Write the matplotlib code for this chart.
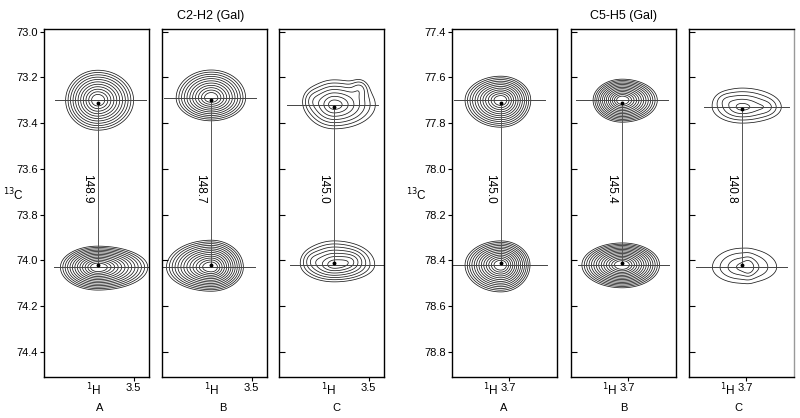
import numpy as np
import matplotlib
matplotlib.use('Agg')
import matplotlib.pyplot as plt

plt.rcParams['font.family'] = ['Liberation Sans', 'DejaVu Sans']

# two spectral windows (1H ppm runs right-to-left, 13C top-to-bottom)
groups = ['C2-H2 (Gal)', 'C5-H5 (Gal)']
h_lim = [(3.62, 3.48), (3.776, 3.636)]
c_lim = [(74.51, 72.99), (78.91, 77.39)]
c_ticks = [[73.0, 73.2, 73.4, 73.6, 73.8, 74.0, 74.2, 74.4],
           [77.4, 77.6, 77.8, 78.0, 78.2, 78.4, 78.6, 78.8]]
h_tick = [3.5, 3.7]
panel_names = ['A', 'B', 'C']

# one-bond couplings (Hz)
couplings = [[148.9, 148.7, 145.0], [145.0, 145.4, 140.8]]

# peak centres
peak_h = [[3.548, 3.554, 3.546], [3.7105, 3.7074, 3.7046]]
peak_c_up = [[73.30, 73.29, 73.32], [77.70, 77.70, 77.73]]
peak_c_lo = [[74.03, 74.03, 74.02], [78.42, 78.42, 78.43]]

# outer contour half-extents in ppm: (left, right, up, down) as seen on the page
extent_up = [[(0.043, 0.048, 0.131, 0.131), (0.047, 0.046, 0.122, 0.100), (0.039, 0.055, 0.109, 0.105)],
             [(0.048, 0.040, 0.105, 0.118), (0.039, 0.047, 0.092, 0.096), (0.040, 0.051, 0.083, 0.070)]]
extent_lo = [[(0.050, 0.067, 0.092, 0.100), (0.060, 0.043, 0.118, 0.105), (0.044, 0.054, 0.105, 0.074)],
             [(0.048, 0.039, 0.105, 0.118), (0.054, 0.050, 0.096, 0.100), (0.040, 0.046, 0.083, 0.070)]]
n_levels_up = [[11, 11, 7], [12, 13, 5]]
n_levels_lo = [[13, 13, 7], [13, 14, 4]]

# small side lobes in the noisy C spectra: group, panel, 1H, 13C, amp, width 1H, width 13C
side_lobes = [(0, 2, 3.512, 73.25, 0.22, 0.007, 0.025),
              (0, 2, 3.575, 73.30, 0.15, 0.008, 0.030),
              (0, 2, 3.522, 74.00, 0.22, 0.010, 0.025),
              (0, 2, 3.575, 74.00, 0.15, 0.008, 0.025),
              (1, 2, 3.672, 77.73, 0.22, 0.008, 0.020),
              (1, 2, 3.727, 77.70, 0.15, 0.008, 0.020),
              (1, 2, 3.696, 78.43, 0.35, 0.005, 0.030)]

# spans of the horizontal cursor lines (axes fraction)
hspan_up = [[(0.105, 0.98), (0.02, 0.90), (0.077, 0.95)], [(0.02, 0.89), (0.05, 0.93), (0.144, 0.96)]]
hspan_lo = [[(0.095, 1.0), (0.01, 0.89), (0.105, 1.0)], [(0.0, 0.91), (0.07, 0.94), (0.067, 0.94)]]

ax_left = [[44, 162, 279], [452, 571, 689]]
label_x = [[0.53, 0.58, 0.55], [0.49, 0.51, 0.47]]
W, H = 800, 418
LMIN = 0.1
RMAX = np.sqrt(-2 * np.log(LMIN))


def peak(X, Y, h0, c0, ext):
    l, r, u, d = ext
    sx = np.where(X > h0, l, r) / RMAX
    sy = np.where(Y < c0, u, d) / RMAX
    return np.exp(-0.5 * (((X - h0) / sx) ** 2 + ((Y - c0) / sy) ** 2))


def levels(n):
    # contour radii roughly evenly spaced, a bit tighter towards the rim
    r = RMAX * np.linspace(0.16, 1.0, n) ** 0.9
    return np.sort(np.exp(-0.5 * r ** 2))


fig = plt.figure(figsize=(8.0, 4.18), dpi=100)
for g in range(2):
    for p in range(3):
        ax = fig.add_axes([ax_left[g][p] / W, (H - 377) / H, 104.5 / W, (377 - 29.3) / H])
        hx = np.linspace(h_lim[g][1], h_lim[g][0], 300)
        cy = np.linspace(c_lim[g][1], c_lim[g][0], 500)
        X, Y = np.meshgrid(hx, cy)
        Zu = peak(X, Y, peak_h[g][p], peak_c_up[g][p], extent_up[g][p])
        Zl = peak(X, Y, peak_h[g][p], peak_c_lo[g][p], extent_lo[g][p])
        for (gg, pp, h0, c0, a, sx, sy) in side_lobes:
            if gg == g and pp == p:
                bump = a * np.exp(-0.5 * (((X - h0) / sx) ** 2 + ((Y - c0) / sy) ** 2))
                if abs(c0 - peak_c_up[g][p]) < abs(c0 - peak_c_lo[g][p]):
                    Zu = Zu + bump
                else:
                    Zl = Zl + bump
        ax.contour(X, Y, Zu, levels=levels(n_levels_up[g][p]), colors='#1a1a1a', linewidths=0.55)
        ax.contour(X, Y, Zl, levels=levels(n_levels_lo[g][p]), colors='#1a1a1a', linewidths=0.55)

        ax.axhline(peak_c_up[g][p], *hspan_up[g][p], color='#444444', lw=0.7)
        ax.axhline(peak_c_lo[g][p], *hspan_lo[g][p], color='#444444', lw=0.7)
        ax.plot([peak_h[g][p]] * 2, [peak_c_up[g][p] + 0.01, peak_c_lo[g][p] - 0.01],
                color='#555555', lw=0.7, marker='o', ms=1.8, mfc='k', mec='k')
        ax.annotate(f'{couplings[g][p]:.1f}', xy=(peak_h[g][p], 0.541),
                    xycoords=('data', 'axes fraction'), xytext=(-8, 0),
                    textcoords='offset points', rotation=-90, ha='center', va='center',
                    fontsize=8.5)

        ax.set_xlim(*h_lim[g])
        ax.set_ylim(*c_lim[g])
        ax.set_xticks([h_tick[g]])
        ax.set_xticklabels([f'{h_tick[g]:.1f}'], fontsize=8)
        ax.set_yticks(c_ticks[g])
        ax.tick_params(axis='x', direction='out', length=3, width=0.8, pad=1.5)
        if p == 0:
            ax.set_yticklabels([f'{v:.1f}' for v in c_ticks[g]], fontsize=8)
            ax.tick_params(axis='y', direction='out', length=3, width=0.8, pad=1.5)
        else:
            ax.set_yticklabels([])
            ax.tick_params(axis='y', direction='in', length=4, width=0.8)
        for s in ax.spines.values():
            s.set_linewidth(1.0)
        if g == 1 and p == 2:
            ax.spines['right'].set_color('#999999')

        h1x = 0.476 if g == 0 else 0.37
        ax.text(h1x, -0.036, r'$^{1}$H', transform=ax.transAxes, ha='center', va='center',
                fontsize=8.5)
        ax.text(label_x[g][p], -0.089, panel_names[p], transform=ax.transAxes,
                ha='center', va='center', fontsize=8)

    cx = [211, 624][g]
    fig.text(cx / W, 1 - 16 / H, groups[g], ha='center', va='center', fontsize=9)
    fig.text([13, 416][g] / W, 1 - 195 / H, r'$^{13}$C', ha='center', va='center', fontsize=8.5)

fig.savefig('out.png', dpi=100)
